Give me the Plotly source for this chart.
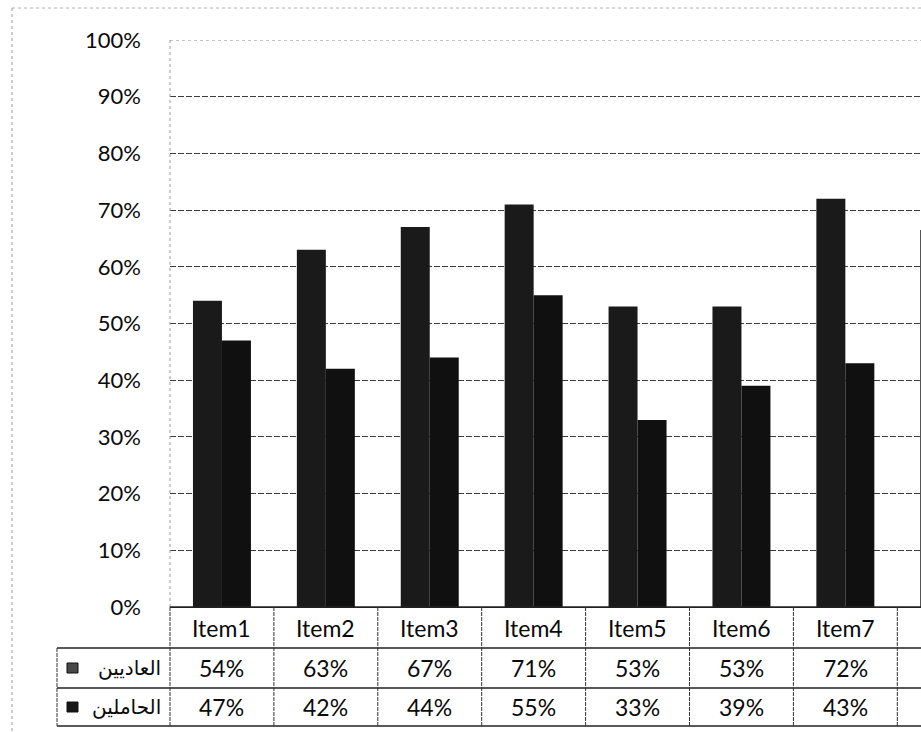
import plotly.graph_objects as go

# ---- data ----
categories = ["Item1", "Item2", "Item3", "Item4", "Item5", "Item6", "Item7", "Item8"]
series_names = ["العاديين", "الحاملين"]
normal_vals = [0.54, 0.63, 0.67, 0.71, 0.53, 0.53, 0.72, 0.665]
carrier_vals = [0.47, 0.42, 0.44, 0.55, 0.33, 0.39, 0.43, None]
# the last column runs past the right edge, so its table values are not printed
printed_cols = 7
y_tick_vals = [0.0, 0.1, 0.2, 0.3, 0.4, 0.5, 0.6, 0.7, 0.8, 0.9, 1.0]
y_tick_text = ["0%", "10%", "20%", "30%", "40%", "50%", "60%", "70%", "80%", "90%", "100%"]

# ---- geometry (pixels) ----
W, H = 921, 732
LEFT, TOP, BOTTOM = 170, 40, 607          # plot area edges
CAT_W = 103.9                               # width of one category slot
PLOT_W = W - LEFT
PLOT_H = BOTTOM - TOP
X_SPAN = PLOT_W / CAT_W                     # categories visible across the plot
ROW_EDGES = [BOTTOM, 648, 688, 726]         # data-table row boundaries
ROW_MID = [628, 668, 707]
TABLE_LEFT = 57
FONT = "Lato, 'Open Sans', sans-serif"
AR_FONT = "'DejaVu Sans', 'Noto Sans', sans-serif"


def px_x(p):
    return (p - LEFT) / PLOT_W


def px_y(p):
    return (BOTTOM - p) / PLOT_H


def cat_x(k):
    # paper x of the left boundary of category slot k
    return k / X_SPAN


fig = go.Figure()
colors = ["#1a1a1a", "#101010"]
for name, vals, col in zip(series_names, [normal_vals, carrier_vals], colors):
    fig.add_trace(go.Bar(
        x=categories, y=vals, name=name,
        marker=dict(color=col, line=dict(width=0)),
        showlegend=False, hoverinfo="skip",
    ))

shapes = []
ann = []

# y axis line (light dotted)
shapes.append(dict(type="line", xref="paper", yref="paper", x0=0, x1=0, y0=0, y1=1,
                   line=dict(color="#9a9a9a", width=1, dash="dot")))
# 100% gridline on the top edge of the plot
shapes.append(dict(type="line", xref="paper", yref="y", x0=0, x1=1,
                   y0=y_tick_vals[-1], y1=y_tick_vals[-1],
                   line=dict(color="#8a8a8a", width=1, dash="3px,3px")))

# chart frame border (left and top)
shapes.append(dict(type="line", xref="paper", yref="paper",
                   x0=px_x(12), x1=px_x(12), y0=px_y(8), y1=px_y(H),
                   line=dict(color="#9a9a9a", width=1, dash="dot")))
shapes.append(dict(type="line", xref="paper", yref="paper",
                   x0=px_x(12), x1=1.0, y0=px_y(8), y1=px_y(8),
                   line=dict(color="#b0b0b0", width=1, dash="dot")))

# data table: horizontal rules
line_col = "#222222"
for i, yp in enumerate(ROW_EDGES):
    x0 = 0 if i == 0 else px_x(TABLE_LEFT)
    shapes.append(dict(type="line", xref="paper", yref="paper",
                       x0=x0, x1=1.0, y0=px_y(yp), y1=px_y(yp),
                       line=dict(color=line_col, width=1.3)))
# vertical rules between categories
for k in range(len(categories) + 1):
    xk = cat_x(k)
    if xk > 1:
        break
    shapes.append(dict(type="line", xref="paper", yref="paper",
                       x0=xk, x1=xk, y0=px_y(ROW_EDGES[0]), y1=px_y(ROW_EDGES[-1]),
                       line=dict(color="#333333", width=1, dash="4px,1px")))
# left border of series-name column
shapes.append(dict(type="line", xref="paper", yref="paper",
                   x0=px_x(TABLE_LEFT), x1=px_x(TABLE_LEFT),
                   y0=px_y(ROW_EDGES[1]), y1=px_y(ROW_EDGES[-1]),
                   line=dict(color="#333333", width=1, dash="4px,1px")))

# category labels and values
for i, cat in enumerate(categories):
    cx = (i + 0.5) / X_SPAN
    ann.append(dict(text=cat, x=cx, y=px_y(ROW_MID[0]), xref="paper", yref="paper",
                    showarrow=False, xanchor="center", yanchor="middle",
                    font=dict(family=FONT, size=23, color="#0a0a0a")))
    if i >= printed_cols:
        continue
    for r, vals in enumerate([normal_vals, carrier_vals]):
        v = vals[i]
        if v is None:
            continue
        ann.append(dict(text=f"{round(v * 100):d}%", x=cx, y=px_y(ROW_MID[r + 1]),
                        xref="paper", yref="paper", showarrow=False,
                        xanchor="center", yanchor="middle",
                        font=dict(family=FONT, size=23, color="#0a0a0a")))

# series names with legend keys
key_fill = ["#474747", "#161616"]
for r, name in enumerate(series_names):
    ym = ROW_MID[r + 1]
    ann.append(dict(text=name, x=px_x(163), y=px_y(ym), xref="paper", yref="paper",
                    showarrow=False, xanchor="right", yanchor="middle",
                    font=dict(family=AR_FONT, size=20, color="#0a0a0a")))
    shapes.append(dict(type="rect", xref="paper", yref="paper",
                       x0=px_x(67), x1=px_x(78), y0=px_y(ym - 5), y1=px_y(ym + 5),
                       fillcolor=key_fill[r], line=dict(color="#111", width=1)))

fig.update_layout(
    width=W, height=H,
    margin=dict(l=LEFT, r=0, t=TOP, b=H - BOTTOM, pad=0),
    paper_bgcolor="white", plot_bgcolor="white",
    barmode="group", bargap=0.442, bargroupgap=0,
    shapes=shapes, annotations=ann,
    xaxis=dict(type="category", categoryorder="array", categoryarray=categories,
               range=[-0.5, -0.5 + X_SPAN], showticklabels=False, ticks="",
               showgrid=False, showline=True, linecolor="#222", linewidth=1.3,
               zeroline=False, fixedrange=True),
    yaxis=dict(range=[0, 1], tickvals=y_tick_vals, ticktext=y_tick_text,
               tickfont=dict(family=FONT, size=22, color="#0a0a0a"),
               ticks="", ticklabelstandoff=28,
               showgrid=True, gridcolor="#3c3c3c", gridwidth=1, griddash="6px,2px",
               zeroline=False, showline=False, fixedrange=True),
)

fig.write_html("out.html")
